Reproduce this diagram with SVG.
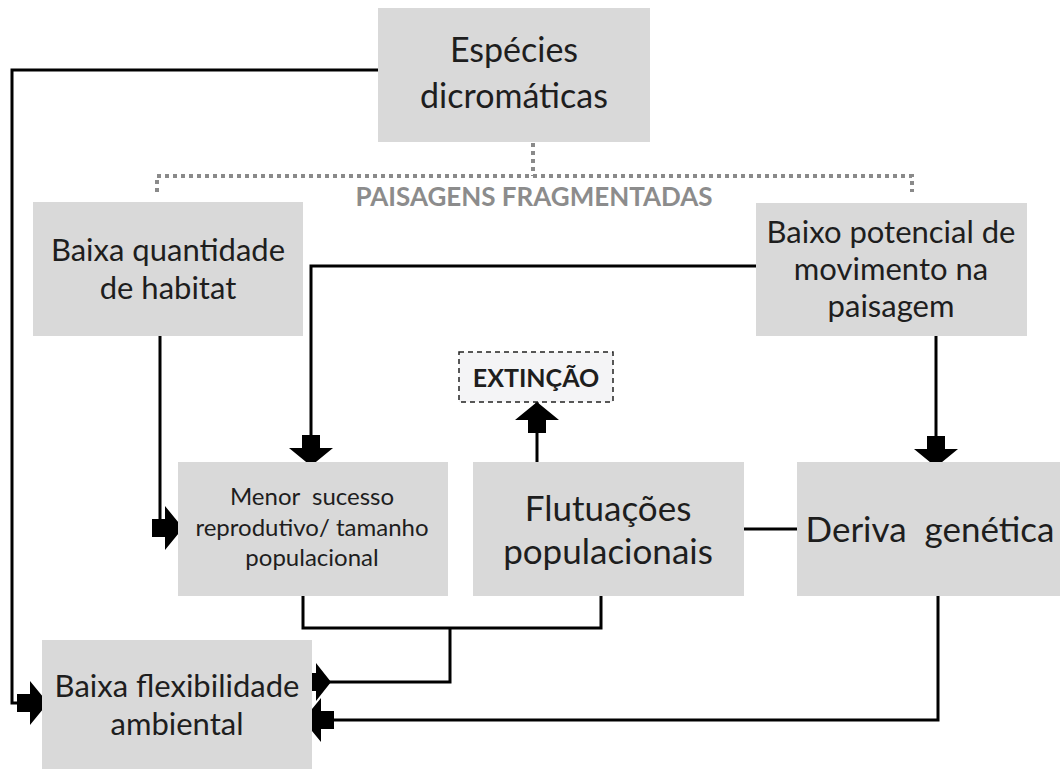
<svg xmlns="http://www.w3.org/2000/svg" width="1063" height="769" viewBox="0 0 1063 769">
<defs>
<style>
.box{fill:#d9d9d9;}
.t{font-family:Lato,"Liberation Sans",sans-serif;fill:#1e1e1e;text-anchor:middle;white-space:pre;}
.ln{fill:none;stroke:#000;stroke-width:3;}
.dot{fill:none;stroke:#8a8a8a;stroke-width:4;stroke-dasharray:4 4;}
</style>
<marker id="ah" viewBox="0 -23 32 46" refX="31" refY="0" markerWidth="32" markerHeight="46" markerUnits="userSpaceOnUse" orient="auto">
<path d="M0,-9 L13,-9 L13,-22 L31,0 L13,22 L13,9 L0,9 Z" fill="#000"/>
</marker>
<marker id="ah0" viewBox="0 -23 32 46" refX="0" refY="0" markerWidth="32" markerHeight="46" markerUnits="userSpaceOnUse" orient="auto">
<path d="M0,-9 L13,-9 L13,-19 L28,0 L13,19 L13,9 L0,9 Z" fill="#000"/>
</marker>
</defs>
<rect width="1063" height="769" fill="#fff"/>

<g id="connectors">
<path class="ln" d="M378,70 H12 V703 H48" marker-end="url(#ah)"/>
<path class="dot" d="M533,143 V176"/>
<path class="dot" d="M157,192 V176 H912 V192"/>
<path class="ln" d="M756,266 H311 V466" marker-end="url(#ah)"/>
<path class="ln" d="M160,336 V528 H183" marker-end="url(#ah)"/>
<path class="ln" d="M936,336 V467" marker-end="url(#ah)"/>
<path class="ln" d="M537,462 V402" marker-end="url(#ah)"/>
<path class="ln" d="M743,529 H797"/>
<path class="ln" d="M303,596 V628 H601 V596"/>
<path class="ln" d="M303,682 H450 V628" marker-start="url(#ah0)"/>
<path class="ln" d="M938,596 V720 H303" marker-end="url(#ah)"/>
</g>

<g id="especies">
<rect class="box" x="378" y="8" width="272" height="134"/>
<text class="t" x="514" y="62" font-size="34">Espécies</text>
<text class="t" x="514" y="108" font-size="34">dicromáticas</text>
</g>

<g id="paisagens">
<text x="534" y="206" font-family="Lato,'Liberation Sans',sans-serif" font-weight="bold" font-size="26" fill="#8c8c8c" text-anchor="middle">PAISAGENS FRAGMENTADAS</text>
</g>

<g id="habitat">
<rect class="box" x="33" y="202" width="270" height="134"/>
<text class="t" x="168" y="261" font-size="31">Baixa quantidade</text>
<text class="t" x="168" y="299" font-size="31">de habitat</text>
</g>

<g id="movimento">
<rect class="box" x="756" y="203" width="271" height="133"/>
<text class="t" x="891" y="243" font-size="31">Baixo potencial de</text>
<text class="t" x="891" y="280" font-size="31">movimento na</text>
<text class="t" x="891" y="317" font-size="31">paisagem</text>
</g>

<g id="extincao">
<rect x="459" y="352" width="154" height="50" fill="#f4f4f6" stroke="#222" stroke-width="1.5" stroke-dasharray="5 4"/>
<text class="t" x="536" y="387" font-size="25" font-weight="bold" fill="#111">EXTINÇÃO</text>
</g>

<g id="menor">
<rect class="box" x="178" y="462" width="270" height="134"/>
<text class="t" x="312" y="505" font-size="24">Menor  sucesso</text>
<text class="t" x="312" y="536" font-size="24">reprodutivo/ tamanho</text>
<text class="t" x="312" y="566" font-size="24">populacional</text>
</g>

<g id="flutuacoes">
<rect class="box" x="473" y="462" width="271" height="134"/>
<text class="t" x="608" y="521" font-size="35">Flutuações</text>
<text class="t" x="608" y="564" font-size="35">populacionais</text>
</g>

<g id="deriva">
<rect class="box" x="797" y="462" width="263" height="134"/>
<text class="t" x="930" y="542" font-size="35">Deriva  genética</text>
</g>

<g id="flexibilidade">
<rect class="box" x="42" y="640" width="270" height="129"/>
<text class="t" x="177" y="697" font-size="31">Baixa flexibilidade</text>
<text class="t" x="177" y="735" font-size="31">ambiental</text>
</g>
</svg>
